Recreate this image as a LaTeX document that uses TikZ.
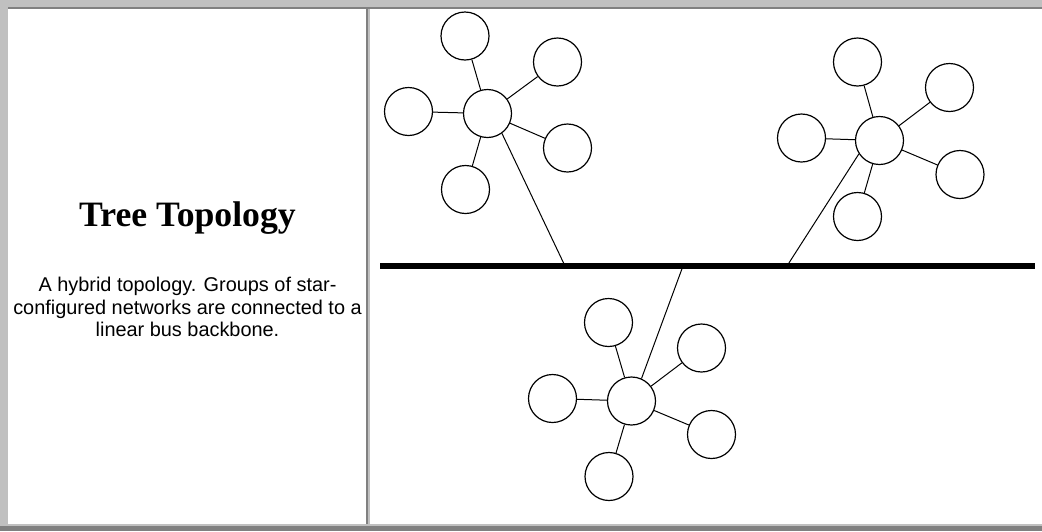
\documentclass[tikz,border=0pt]{standalone}
\usepackage{fontspec}
\setmainfont{Liberation Serif}
\newfontfamily\arialfont{Liberation Sans}
\definecolor{lgray}{HTML}{C0C0C0}
\definecolor{dgray}{HTML}{808080}
\begin{document}
\begin{tikzpicture}[x=1pt,y=-1pt,
  dev/.style={circle,draw=black,line width=1.2pt,minimum size=48pt,inner sep=0pt,fill=white},
  link/.style={draw=black,line width=1pt},
  busline/.style={draw=black,line width=5.5pt}]
\useasboundingbox (0,0) rectangle (1042,531);
% frame
\fill[white] (0,0) rectangle (1042,531);
\fill[lgray] (0,0) rectangle (1042,7);
\fill[lgray] (0,0) rectangle (7.5,531);
\fill[dgray] (7.5,7) rectangle (1042,9);
\fill[lgray] (7.5,524) rectangle (1042,526);
\fill[dgray] (0,526) rectangle (1042,531);
\fill[dgray] (366,9) rectangle (368,524);
\fill[lgray] (368,9) rectangle (370,524);
% text
\node[anchor=base,font=\bfseries\fontsize{35.7}{40}\selectfont] (title) at (187.5,226.7) {Tree Topology};
\node[anchor=base,align=center,font=\arialfont\fontsize{19.9}{22.3}\selectfont] (desc) at (187.5,336.3)
  {A hybrid topology. Groups of star-\\configured networks are connected to a\\linear bus backbone.};
% group 1
\node[dev] (h1) at (487.5,113.5) {};
\node[dev] (a1) at (465,36) {};
\node[dev] (b1) at (557.5,62) {};
\node[dev] (c1) at (408.5,111.5) {};
\node[dev] (d1) at (567.5,148) {};
\node[dev] (e1) at (465.5,189.5) {};
% group 2
\node[dev] (h2) at (879.5,140.5) {};
\node[dev] (a2) at (857.5,62) {};
\node[dev] (b2) at (949.5,87.5) {};
\node[dev] (c2) at (801.5,138) {};
\node[dev] (d2) at (960,174.5) {};
\node[dev] (e2) at (857.5,216.5) {};
% group 3
\node[dev] (h3) at (631.5,401) {};
\node[dev] (a3) at (608.5,322.5) {};
\node[dev] (b3) at (701.5,348) {};
\node[dev] (c3) at (552.5,398.5) {};
\node[dev] (d3) at (711.5,434.5) {};
\node[dev] (e3) at (609,476.5) {};
% bus
\coordinate (busL) at (380,266);
\coordinate (busR) at (1035,266);
\coordinate (t1) at (565,266);
\coordinate (t2) at (787,266);
\coordinate (t3) at (683,266);
% links
\foreach \g in {1,2,3}{
  \foreach \l in {a,b,c,d,e}{
    \draw[link] (h\g) -- (\l\g);
  }
}
\draw[link] (h1.-54) -- (t1);
\draw[link] (h2.-147) -- (t2);
\draw[link] (h3.66) -- (t3);
\draw[busline] (busL) -- (busR);
\end{tikzpicture}
\end{document}
